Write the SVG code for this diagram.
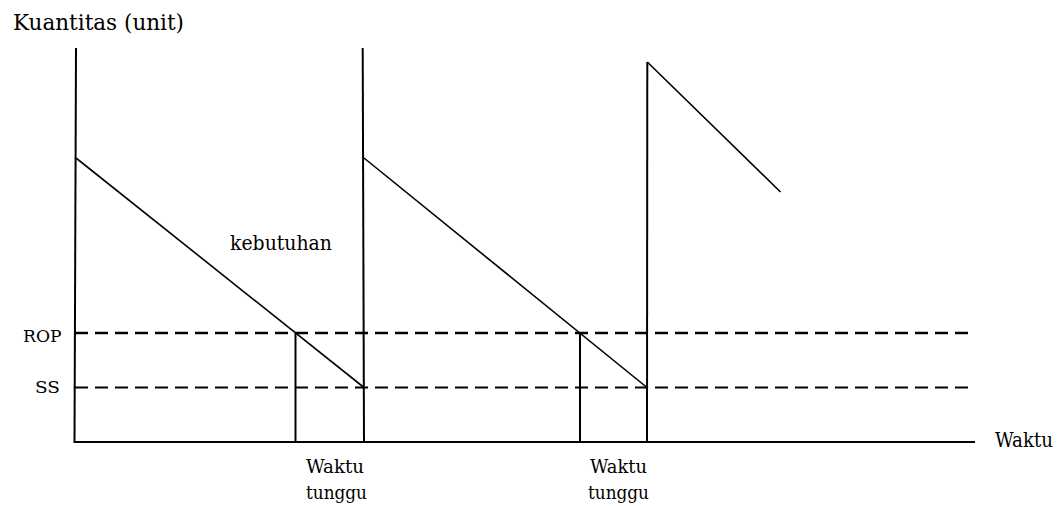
<svg xmlns="http://www.w3.org/2000/svg" width="1063" height="506" viewBox="0 0 1063 506">
  <style>
    .lbl { font-family: 'DejaVu Serif', serif; fill: #000; }
    .s { stroke: #000; fill: none; stroke-width: 2; stroke-linecap: butt; }
    .d { stroke: #000; fill: none; stroke-width: 1.6; }
    .rop { stroke: #000; fill: none; stroke-width: 2.6; stroke-dasharray: 13 7; }
    .ss { stroke: #000; fill: none; stroke-width: 1.8; stroke-dasharray: 13 7; }
  </style>
  <rect width="1063" height="506" fill="#fff"/>
  <g id="axes">
    <line class="s" x1="76" y1="48" x2="74.5" y2="443"/>
    <line class="s" x1="74" y1="442" x2="975" y2="442"/>
  </g>
  <g id="levels">
    <line class="rop" x1="75" y1="333" x2="975" y2="333"/>
    <line class="ss" x1="75" y1="387.5" x2="975" y2="387.5"/>
  </g>
  <g id="connectors">
    <line class="d" x1="76" y1="158" x2="364" y2="387.5"/>
    <line class="s" x1="362.7" y1="48" x2="364" y2="442"/>
    <line class="d" x1="364" y1="158" x2="647" y2="387.5"/>
    <line class="s" x1="647.3" y1="62" x2="647" y2="442"/>
    <line class="d" x1="647.3" y1="62" x2="780.5" y2="192"/>
    <line class="s" x1="295.5" y1="333" x2="295.5" y2="442"/>
    <line class="s" x1="580" y1="333" x2="580" y2="442"/>
  </g>
  <g id="labels">
    <text class="lbl" x="13" y="29.5" font-size="23" textLength="171" lengthAdjust="spacingAndGlyphs">Kuantitas (unit)</text>
    <text class="lbl" x="230" y="250" font-size="20" textLength="102" lengthAdjust="spacingAndGlyphs">kebutuhan</text>
    <text class="lbl" x="23" y="341.5" font-size="16.5" textLength="38.5" lengthAdjust="spacingAndGlyphs">ROP</text>
    <text class="lbl" x="35" y="393" font-size="16.5" textLength="25" lengthAdjust="spacingAndGlyphs">SS</text>
    <text class="lbl" x="995" y="447" font-size="20" textLength="58" lengthAdjust="spacingAndGlyphs">Waktu</text>
    <text class="lbl" x="306" y="473.3" font-size="18.5" textLength="58" lengthAdjust="spacingAndGlyphs">Waktu</text>
    <text class="lbl" x="306" y="498.5" font-size="18.5" textLength="61" lengthAdjust="spacingAndGlyphs">tunggu</text>
    <text class="lbl" x="590" y="473.3" font-size="18.5" textLength="57" lengthAdjust="spacingAndGlyphs">Waktu</text>
    <text class="lbl" x="588" y="498.5" font-size="18.5" textLength="61" lengthAdjust="spacingAndGlyphs">tunggu</text>
  </g>
</svg>
